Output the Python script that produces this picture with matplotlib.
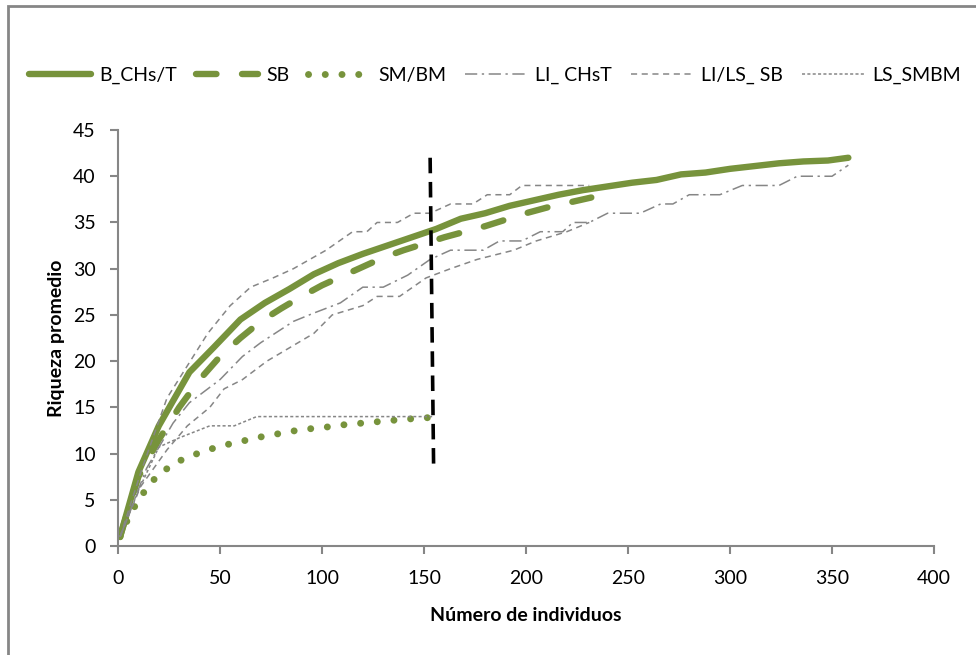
import matplotlib.pyplot as plt
from matplotlib.patches import Rectangle

plt.rcParams['font.family'] = ['Lato', 'DejaVu Sans']

# curves
b_x = [1, 10, 20, 35, 47, 60, 72, 84, 96, 108, 120, 132, 144, 156, 168, 180, 192,
       204, 216, 228, 240, 252, 264, 276, 288, 300, 312, 324, 336, 348, 358]
b_y = [1, 8, 13, 18.8, 21.5, 24.5, 26.3, 27.8, 29.4, 30.6, 31.6, 32.5, 33.4, 34.3,
       35.4, 36.0, 36.8, 37.4, 38.0, 38.5, 38.9, 39.3, 39.6, 40.2, 40.4, 40.8, 41.1,
       41.4, 41.6, 41.7, 42]

sb_x = [1, 10, 20, 30, 40, 50, 60, 70, 80, 90, 100, 110, 120, 130, 140, 150, 160,
        170, 180, 190, 200, 210, 220, 232]
sb_y = [1, 7.5, 11.5, 15, 18, 20.5, 22.5, 24.3, 25.7, 27, 28.2, 29.2, 30.2, 31.2,
        32, 32.7, 33.4, 34.0, 34.6, 35.3, 36.0, 36.6, 37.1, 37.7]

sm_x = [1, 5, 10, 15, 20, 30, 40, 50, 60, 70, 80, 90, 100, 110, 120, 130, 140, 153]
sm_y = [1, 3, 5, 6.5, 7.8, 9.2, 10.1, 10.8, 11.3, 11.8, 12.2, 12.6, 12.8, 13.1,
        13.3, 13.5, 13.7, 13.9]

li_chst_x = [1, 14, 27, 35, 50, 61, 70, 86, 96, 109, 120, 130, 142, 153, 163, 179,
             187, 198, 207, 218, 223, 231, 240, 256, 266, 272, 280, 295, 306, 324,
             333, 350, 358]
li_chst_y = [1, 8.4, 13.3, 15.5, 18, 20.5, 22, 24.3, 25.2, 26.3, 28, 28, 29.3, 31,
             32, 32, 33, 33, 34, 34, 35, 35, 36, 36, 37, 37, 38, 38, 39, 39, 40, 40, 41.2]

ls_sb_x = [1, 12, 24, 44, 55, 65, 76, 86, 102, 115, 122, 127, 137, 145, 153, 163,
           174, 181, 192, 198, 231]
ls_sb_y = [1, 8.5, 16, 23, 26, 28, 29, 30, 32, 34, 34, 35, 35, 36, 36, 37, 37, 38,
           38, 39, 39]

li_sb_x = [1, 11, 24, 34, 45, 52, 61, 73, 96, 105, 120, 127, 138, 151, 163, 176,
           194, 205, 220, 231]
li_sb_y = [1, 6.4, 10.4, 13, 15, 17, 18, 20, 23, 25, 26, 27, 27, 29, 30, 31, 32,
           33, 34, 35]

ls_smbm_x = [1, 10, 20, 30, 45, 57, 68, 154]
ls_smbm_y = [1, 6, 10.7, 11.7, 13, 13, 14, 14]

cutoff_x = [153, 154.7]
cutoff_y = [42, 8.7]

green = '#77933C'
gray = '#868686'

fig = plt.figure(figsize=(9.76, 6.55), dpi=100)
ax = fig.add_axes([0.1209, 0.1664, 0.8361, 0.6351])

ax.plot(b_x, b_y, color=green, lw=4.6, solid_capstyle='round', label='B_CHs/T')
ax.plot(sb_x, sb_y, color=green, lw=4.6, dashes=(3.2, 4.0),
        dash_capstyle='round', label='SB')
ax.plot(sm_x, sm_y, color=green, lw=5, dashes=(0.01, 2.4),
        dash_capstyle='round', label='SM/BM')
ax.plot(li_chst_x, li_chst_y, color=gray, lw=1.1, dashes=(8, 3, 1.5, 3),
        label='LI_ CHsT')
ax.plot(ls_sb_x, ls_sb_y, color=gray, lw=1.1, dashes=(4, 3), label='LI/LS_ SB')
ax.plot(li_sb_x, li_sb_y, color=gray, lw=1.1, dashes=(4, 3))
ax.plot(ls_smbm_x, ls_smbm_y, color=gray, lw=1.1, dashes=(2, 1.5), label='LS_SMBM')
ax.plot(cutoff_x, cutoff_y, color='black', lw=2.6, dashes=(4.3, 2.4))

ax.set_xlim(0, 400)
ax.set_ylim(0, 45)
ax.set_xticks(range(0, 401, 50))
ax.set_yticks(range(0, 46, 5))
for s in ['top', 'right']:
    ax.spines[s].set_visible(False)
for s in ['left', 'bottom']:
    ax.spines[s].set_color(gray)
    ax.spines[s].set_linewidth(1.5)
ax.tick_params(colors=gray, labelcolor='black', labelsize=14, width=1.5,
               length=6, direction='out')
ax.tick_params(axis='x', pad=11)
ax.tick_params(axis='y', pad=10)
ax.set_xlabel('Número de individuos', fontsize=14, fontweight='bold', labelpad=15)
ax.set_ylabel('Riqueza promedio', fontsize=14, fontweight='bold', labelpad=6)

fig.legend(loc='center', ncol=6, mode='expand', frameon=False, fontsize=14,
           bbox_to_anchor=(0.012, 0.855, 0.99, 0.06), handlelength=3.2,
           handletextpad=0.4, columnspacing=1.0)

fig.patches.append(Rectangle((8 / 976, -0.1), 1.2, 1.1 - 6 / 655,
                             transform=fig.transFigure, fill=False,
                             edgecolor=gray, lw=2))

fig.savefig('out.png', dpi=100)
